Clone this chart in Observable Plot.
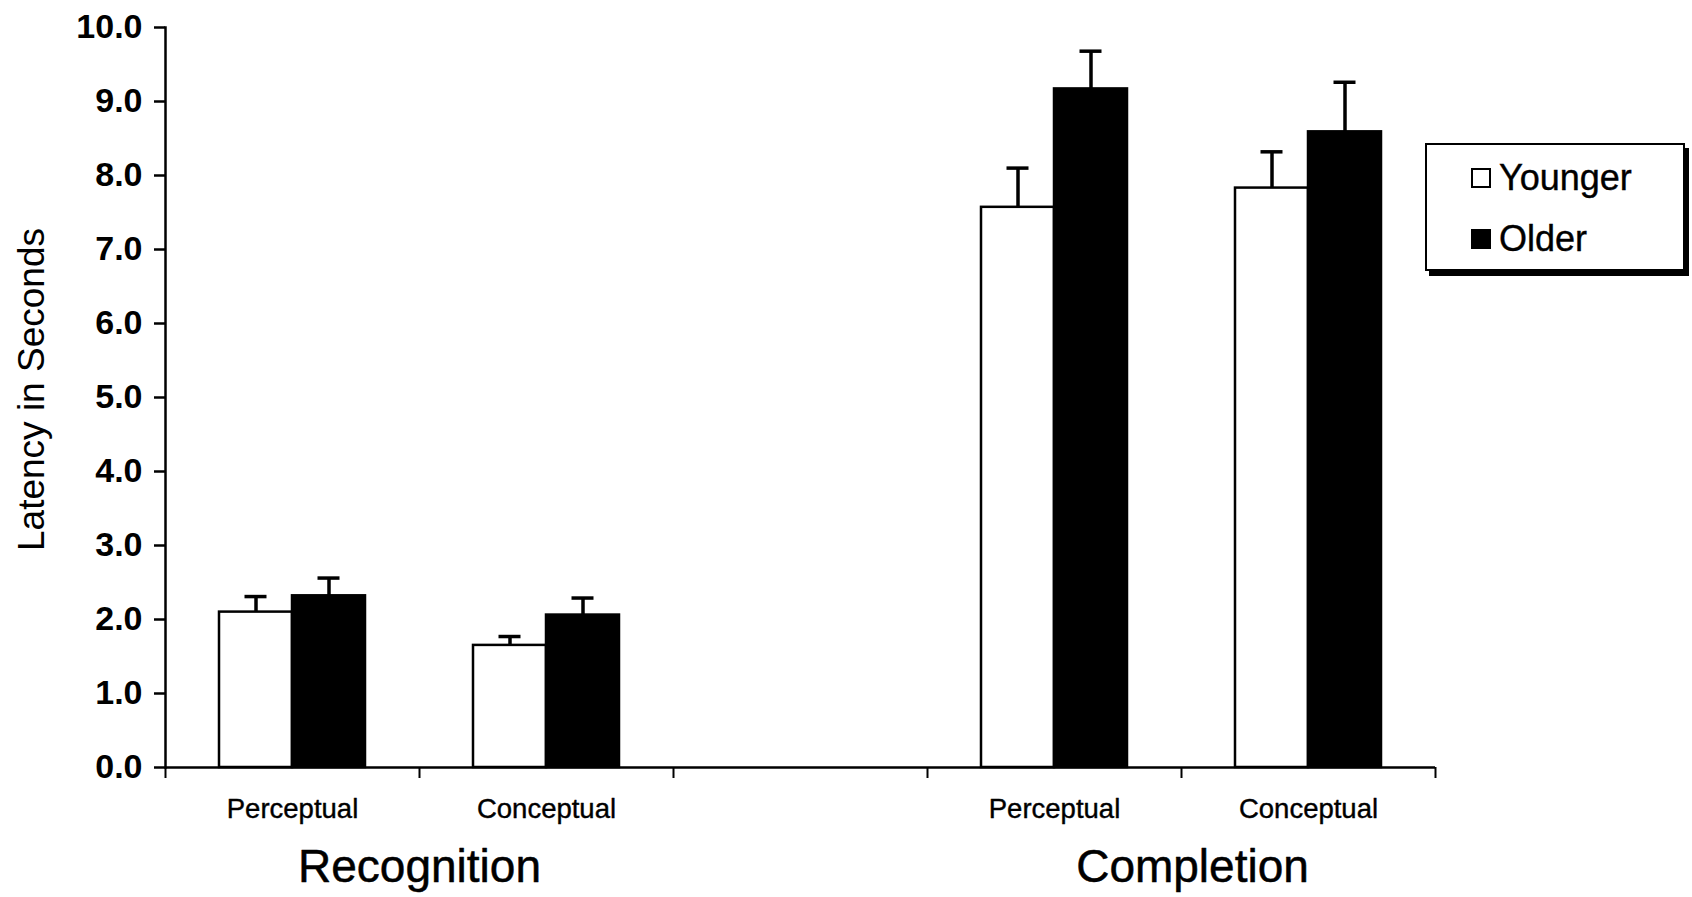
<!DOCTYPE html>
<html>
<head>
<meta charset="utf-8">
<script src="https://cdn.jsdelivr.net/npm/d3@7"></script>
<script src="https://cdn.jsdelivr.net/npm/@observablehq/plot@0.6"></script>
<style>
  html, body { margin: 0; padding: 0; background: #fff; }
  #wrap { position: relative; width: 1692px; height: 897px; font-family: "Liberation Sans", Arial, sans-serif; }
  #legend { position: absolute; left: 1425px; top: 143px; width: 256px; height: 124px; border: 2.5px solid #000; background: #fff; box-shadow: 4px 5px 0 #000; }
  .li { position: absolute; left: 44px; display: flex; align-items: center; font-size: 36px; color: #000; -webkit-text-stroke: 0.4px #000; }
  .sw { width: 20px; height: 20px; border: 2px solid #000; margin-right: 8px; box-sizing: border-box; }
</style>
</head>
<body>
<div id="wrap">
  <div id="chart"></div>
  <div id="legend">
    <div class="li" style="top:12px"><div class="sw" style="background:#fff"></div><span>Younger</span></div>
    <div class="li" style="top:73px"><div class="sw" style="background:#000"></div><span>Older</span></div>
  </div>
</div>
<script>
// ---- data ----
const tasks = ["Recognition", "Completion"];
const conditions = ["Perceptual", "Conceptual"];
const groups = ["Younger", "Older"];
const youngerMeans = [2.10, 1.65, 7.57, 7.83];
const olderMeans   = [2.32, 2.06, 9.17, 8.59];
const youngerErr   = [0.21, 0.12, 0.53, 0.49];
const olderErr     = [0.24, 0.23, 0.51, 0.67];
const yTicks = [0, 1, 2, 3, 4, 5, 6, 7, 8, 9, 10];
const yTitle = "Latency in Seconds";

// ---- build ----
const cells = [];
tasks.forEach((t, ti) => conditions.forEach((c, ci) => cells.push({task: t, condition: c, slot: t + "|" + c, i: ti * 2 + ci})));
const slots = [cells[0].slot, cells[1].slot, "gap", cells[2].slot, cells[3].slot];
const rows = [];
cells.forEach(cell => {
  rows.push({...cell, group: groups[0], value: youngerMeans[cell.i], err: youngerErr[cell.i]});
  rows.push({...cell, group: groups[1], value: olderMeans[cell.i], err: olderErr[cell.i]});
});
const young = rows.filter(d => d.group === "Younger");
const old = rows.filter(d => d.group === "Older");

const W = 1692, H = 897, ML = 165, MR = 257, MT = 27, MB = 130;
const bw = (W - ML - MR) / slots.length;
const barW = 73, capW = 22;
const font = "Liberation Sans, Arial, sans-serif";

const chart = Plot.plot({
  width: W, height: H,
  marginLeft: ML, marginRight: MR, marginTop: MT, marginBottom: MB,
  style: {fontFamily: font, background: "white", color: "black", overflow: "visible"},
  x: {type: "band", domain: slots, padding: 0, axis: null},
  y: {domain: [0, 10], axis: null},
  marks: [
    Plot.barY(young, {x: "slot", y: "value", fill: "white", stroke: "black", strokeWidth: 2.5, insetLeft: bw / 2 - barW, insetRight: bw / 2}),
    Plot.barY(old, {x: "slot", y: "value", fill: "black", stroke: "black", strokeWidth: 2.5, insetLeft: bw / 2, insetRight: bw / 2 - barW}),
    Plot.ruleX(young, {x: "slot", y1: "value", y2: d => d.value + d.err, dx: -barW / 2, strokeWidth: 3.5}),
    Plot.ruleX(old, {x: "slot", y1: "value", y2: d => d.value + d.err, dx: barW / 2, strokeWidth: 3.5}),
    Plot.tickY(young, {x: "slot", y: d => d.value + d.err, dx: -barW / 2, insetLeft: (bw - capW) / 2, insetRight: (bw - capW) / 2, strokeWidth: 3.5}),
    Plot.tickY(old, {x: "slot", y: d => d.value + d.err, dx: barW / 2, insetLeft: (bw - capW) / 2, insetRight: (bw - capW) / 2, strokeWidth: 3.5}),
    // axes lines
    Plot.ruleY([0], {strokeWidth: 2.5}),
    Plot.frame({anchor: "left", strokeWidth: 2.5}),
    // x boundary ticks
    Plot.ruleX(slots, {x: d => d, y1: 0, y2: 0, dx: -bw / 2, insetBottom: -11, strokeWidth: 2}),
    Plot.ruleX(slots.slice(-1), {x: d => d, y1: 0, y2: 0, dx: bw / 2, insetBottom: -11, strokeWidth: 2}),
    // y axis
    Plot.axisY(yTicks, {tickSize: 11, tickPadding: 12, tickFormat: d3.format(".1f"), fontSize: 34, fontWeight: "bold", strokeWidth: 2.5, label: null}),
    // x labels
    Plot.text(cells, {x: "slot", text: "condition", frameAnchor: "bottom", dy: 42, fontSize: 27.5, lineAnchor: "middle", fill: "black", stroke: "black", strokeWidth: 0.4}),
    Plot.text(tasks.slice(0, 1), {x: t => t + "|" + conditions[1], text: d => d, dx: -bw / 2, frameAnchor: "bottom", dy: 100, fontSize: 46, lineAnchor: "middle", fill: "black", stroke: "black", strokeWidth: 0.5}),
    Plot.text(tasks.slice(1), {x: t => t + "|" + conditions[1], text: d => d, dx: -bw / 2 + 11, frameAnchor: "bottom", dy: 100, fontSize: 46, lineAnchor: "middle", fill: "black", stroke: "black", strokeWidth: 0.5}),
    // y title
    Plot.text([yTitle], {text: d => d, frameAnchor: "left", textAnchor: "middle", rotate: -90, dx: -133, dy: -8, fontSize: 37, lineAnchor: "middle", fill: "black"})
  ]
});
document.getElementById("chart").appendChild(chart);
</script>
</body>
</html>
